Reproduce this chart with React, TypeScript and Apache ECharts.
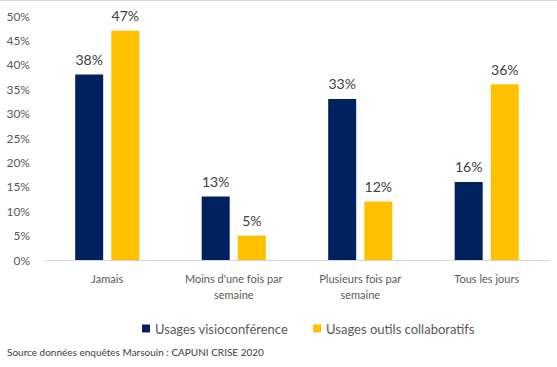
import React, { useEffect, useRef } from "react";
import * as echarts from "echarts";

const categories = ["Jamais", "Moins d'une fois par\nsemaine", "Plusieurs fois par\nsemaine", "Tous les jours"];
const visio = [38, 13, 33, 16];
const collab = [47, 5, 12, 36];
const seriesNames = ["Usages visioconférence", "Usages outils collaboratifs"];
const sourceText = "Source données enquêtes Marsouin : CAPUNI CRISE 2020";

const FONT = "Lato, 'Open Sans', sans-serif";

export default function App() {
  const ref = useRef<HTMLDivElement>(null);
  useEffect(() => {
    if (!ref.current) return;
    const chart = echarts.init(ref.current, undefined, { renderer: "svg" });
    const labelCfg = {
      show: true,
      position: "top",
      distance: 8,
      formatter: "{c}%",
      color: "#404040",
      fontSize: 14,
      fontFamily: FONT,
    };
    chart.setOption({
      animation: false,
      textStyle: { fontFamily: FONT },
      grid: { left: 44, right: 7, top: 16, bottom: 107 },
      legend: {
        top: 317,
        left: 137,
        itemWidth: 8,
        itemHeight: 8,
        itemGap: 25,
        icon: "rect",
        textStyle: { color: "#595959", fontSize: 13, fontFamily: FONT },
        data: seriesNames,
      },
      xAxis: {
        type: "category",
        data: categories,
        axisLine: { show: true, lineStyle: { color: "#d9d9d9", width: 1 } },
        axisTick: { show: false },
        axisLabel: { color: "#595959", fontSize: 11, fontFamily: FONT, margin: 10, lineHeight: 16, interval: 0 },
      },
      yAxis: {
        type: "value",
        min: 0,
        max: 50,
        interval: 5,
        splitLine: { show: false },
        axisLine: { show: false },
        axisTick: { show: false },
        axisLabel: { formatter: "{value}%", color: "#595959", fontSize: 12, fontFamily: FONT, margin: 14 },
      },
      series: [
        { name: seriesNames[0], type: "bar", data: visio, barWidth: 28, barGap: "29%", itemStyle: { color: "#002060" }, label: labelCfg },
        { name: seriesNames[1], type: "bar", data: collab, barWidth: 28, barGap: "29%", itemStyle: { color: "#FFC000" }, label: labelCfg },
      ],
      graphic: [
        { type: "line", shape: { x1: 0, y1: 0.5, x2: 557, y2: 0.5 }, style: { stroke: "#d9d9d9", lineWidth: 1 } },
        { type: "text", left: 7, top: 347, style: { text: sourceText, fill: "#404040", fontSize: 10, fontFamily: FONT } },
      ],
    });
    return () => chart.dispose();
  }, []);
  return <div ref={ref} style={{ position: "fixed", left: 0, top: 0, width: 557, height: 367, background: "#fff" }} />;
}
